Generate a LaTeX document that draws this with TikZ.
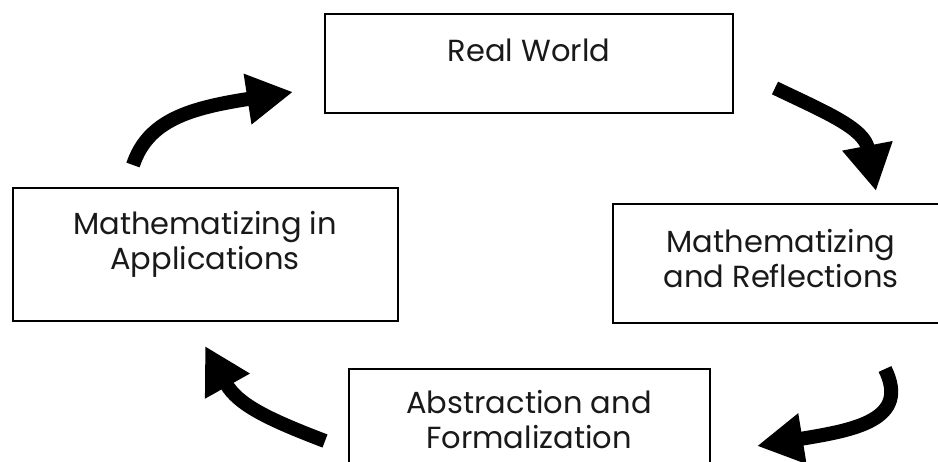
\documentclass[tikz,border=0pt]{standalone}
\usepackage{fontspec}
\setmainfont{Poppins}
\usetikzlibrary{arrows.meta}
\begin{document}
\begin{tikzpicture}[x=1pt,y=-1pt,
  box/.style={draw=black, line width=1.8pt, rectangle, inner sep=0pt, outer sep=0pt, anchor=north west},
  lbl/.style={align=center, font=\fontsize{30.5}{35}\selectfont, inner sep=0pt, text=black!90},
  bigarrow/.style={line width=14pt, -{Triangle[length=46pt,width=48pt]}}]
\useasboundingbox (0,0) rectangle (938,462);
\clip (0,0) rectangle (938,462);
% boxes
\node[box, minimum width=408pt, minimum height=99pt] (rw) at (325,14) {};
\node[box, minimum width=385pt, minimum height=133pt] (app) at (13,188) {};
\node[box, minimum width=336pt, minimum height=119pt] (refl) at (613,204) {};
\node[box, minimum width=361pt, minimum height=130pt] (abs) at (349,369) {};
% labels
\node[lbl] (trw) at (529,50) {Real World};
\node[lbl] (tapp) at (205,244) {Mathematizing in\\Applications};
\node[lbl] (trefl) at (781,259) {Mathematizing\\and Reflections};
\node[lbl] (tabs) at (529,420) {Abstraction and\\Formalization};
% arrow end points
\coordinate (a1s) at (133,165);
\coordinate (a1e) at (293,92);
\coordinate (a2s) at (775,88);
\coordinate (a2e) at (876,191);
\coordinate (a3s) at (885,369);
\coordinate (a3e) at (757,446);
\coordinate (a4s) at (325,441);
\coordinate (a4e) at (205,346);
\draw[bigarrow] (a1s) .. controls (148,120) and (190,108) .. (a1e);
\draw[bigarrow] (a2s) .. controls (825,112) and (864,128) .. (a2e);
\draw[bigarrow] (a3s) .. controls (910,420) and (855,430) .. (a3e);
\draw[bigarrow] (a4s) .. controls (270,420) and (238,405) .. (a4e);
\end{tikzpicture}
\end{document}
